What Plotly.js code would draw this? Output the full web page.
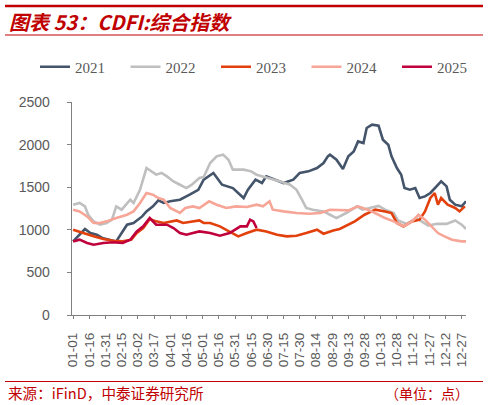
<!DOCTYPE html>
<html>
<head>
<meta charset="utf-8">
<script src="https://cdn.plot.ly/plotly-3.0.1.min.js"></script>
<style>
html,body{margin:0;padding:0;background:#fff;}
#chart{width:488px;height:405px;}
</style>
</head>
<body>
<div id="chart"></div>
<script>
// ---- data (x = day index from 01-01, y = index points) ----
var tickDays = [0,15,30,45,60,75,90,105,120,135,150,165,180,195,210,225,240,255,270,285,300,315,330,345,360];
var tickLabels = ["01-01","01-16","01-31","02-15","03-02","03-17","04-01","04-16","05-01","05-16","05-31","06-15","06-30","07-15","07-30","08-14","08-29","09-13","09-28","10-13","10-28","11-12","11-27","12-12","12-27"];

var seriesNames = ["2021","2022","2023","2024","2025"];

var days2021 = [0,11,16,22,27,33,40,45,50,56,64,68,74,79,84,90,99,108,116,121,130,138,148,158,162,169,175,179,189,195,204,210,218,226,232,236,238,244,250,255,260,264,269,272,277,283,287,292,295,300,304,307,312,317,321,326,331,335,341,346,349,354,360,364];
var vals2021 = [864,1009,962,942,904,884,864,962,1060,1080,1157,1216,1275,1345,1315,1334,1353,1412,1470,1588,1667,1529,1490,1373,1470,1588,1549,1627,1580,1549,1588,1667,1686,1725,1784,1862,1882,1823,1714,1862,1920,2037,2018,2195,2234,2222,2058,1999,1862,1725,1647,1490,1470,1490,1373,1392,1432,1490,1568,1510,1353,1295,1275,1334];

var days2022 = [0,6,11,14,19,25,31,36,40,45,53,56,62,65,68,77,82,87,93,99,105,110,114,117,121,127,133,139,144,148,158,165,170,176,182,192,201,207,212,216,222,232,238,244,253,263,268,283,289,297,301,309,318,329,337,346,354,360,364];
var vals2022 = [1295,1315,1275,1177,1099,1060,1080,1119,1275,1236,1353,1315,1470,1588,1725,1647,1667,1627,1568,1529,1490,1529,1568,1608,1620,1784,1862,1882,1823,1706,1706,1686,1647,1627,1608,1568,1529,1470,1353,1256,1236,1216,1177,1138,1197,1275,1236,1280,1236,1197,1110,1070,1138,1050,1070,1070,1110,1060,1010];

var days2023 = [0,9,19,28,37,46,54,59,65,71,77,84,90,96,102,111,117,121,127,136,145,153,161,170,179,189,198,207,216,226,232,241,247,261,270,280,289,295,300,306,314,321,326,331,335,338,341,347,354,358,363];
var vals2023 = [1001,962,923,892,872,864,884,962,1021,1127,1099,1080,1099,1110,1080,1099,1110,1080,1080,1040,981,923,962,1001,981,942,923,931,962,1001,954,993,1009,1099,1177,1236,1216,1197,1080,1040,1099,1119,1216,1373,1432,1295,1373,1295,1256,1216,1275];

var days2024 = [0,6,13,19,25,31,40,50,56,62,68,74,79,84,90,99,104,111,117,126,133,142,151,161,170,176,182,185,195,207,219,229,238,255,264,273,283,289,297,306,314,320,326,332,338,344,351,360,364];
var vals2024 = [1236,1216,1157,1080,1080,1099,1138,1177,1216,1315,1432,1412,1373,1353,1256,1197,1256,1275,1256,1334,1295,1256,1275,1267,1295,1275,1334,1236,1216,1197,1189,1197,1236,1228,1275,1236,1177,1138,1099,1040,1099,1177,1119,1040,962,923,884,864,864];

var days2025 = [0,6,13,19,28,37,46,53,59,65,71,77,87,93,99,105,111,117,127,136,145,155,161,164,167,170];
var vals2025 = [864,884,845,825,845,853,845,884,981,1040,1138,1060,1060,1021,962,942,962,981,962,931,962,1040,1040,1119,1099,1021];

var seriesColors = ["#44546A","#BFBFBF","#E2400C","#F7A596","#C0003C"];

// ---- traces ----
var allDays = [days2021,days2022,days2023,days2024,days2025];
var allVals = [vals2021,vals2022,vals2023,vals2024,vals2025];
var traces = seriesNames.map(function(n,i){
  return {
    x: allDays[i], y: allVals[i], name: n, type: "scatter", mode: "lines",
    line: {color: seriesColors[i], width: 2.6}, hoverinfo: "skip"
  };
});

// helper: pixel -> paper coords (plot area 72..466 x 102..315)
var L = 72, R = 466, T = 102, B = 315;
function px(x){ return (x - L) / (R - L); }
function py(y){ return (B - y) / (B - T); }

var red = "#C00000";
var layout = {
  width: 488, height: 405,
  margin: {l: L, r: 488 - R, t: T, b: 405 - B, pad: 0},
  paper_bgcolor: "#ffffff", plot_bgcolor: "#ffffff",
  font: {family: "Liberation Sans, Arial, sans-serif", color: "#595959"},
  showlegend: true,
  legend: {
    orientation: "h", x: px(36), xanchor: "left", y: py(67), yanchor: "middle",
    font: {family: "Liberation Serif, Times New Roman, serif", size: 15, color: "#595959"},
    entrywidth: 45.5, entrywidthmode: "pixels", bgcolor: "rgba(0,0,0,0)", borderwidth: 0,
    tracegroupgap: 0
  },
  xaxis: {
    type: "linear", range: [-1, 364], showgrid: false, zeroline: false,
    showline: true, linecolor: "#808080", linewidth: 1.3,
    tickmode: "array", tickvals: tickDays, ticktext: tickLabels,
    ticks: "outside", ticklen: 3, tickcolor: "#808080", tickangle: -90,
    ticklabelstandoff: 8,
    tickfont: {family: "Liberation Sans, Arial, sans-serif", size: 13.5, color: "#595959"},
    fixedrange: true
  },
  yaxis: {
    range: [0, 2500], tickmode: "linear", tick0: 0, dtick: 500,
    showgrid: false, zeroline: false, showline: true, linecolor: "#808080", linewidth: 1.3,
    ticks: "outside", ticklen: 4, tickcolor: "#808080",
    ticklabelstandoff: 14,
    tickfont: {family: "Liberation Sans, Arial, sans-serif", size: 14, color: "#595959"},
    fixedrange: true
  },
  shapes: [
    {type: "line", xref: "paper", yref: "paper", x0: px(5), x1: px(483), y0: py(6), y1: py(6), line: {color: red, width: 2.5}},
    {type: "line", xref: "paper", yref: "paper", x0: px(5), x1: px(483), y0: py(35), y1: py(35), line: {color: red, width: 1}},
    {type: "line", xref: "paper", yref: "paper", x0: px(5), x1: px(483), y0: py(381.5), y1: py(381.5), line: {color: red, width: 1}}
  ],
  annotations: [
    {xref: "paper", yref: "paper", x: px(7), y: py(21), xanchor: "left", yanchor: "middle", showarrow: false,
     text: "<b><i>图表 53：CDFI:综合指数</i></b>",
     font: {family: "Noto Sans CJK SC, sans-serif", size: 20, color: red}},
    {xref: "paper", yref: "paper", x: px(6), y: py(392.5), xanchor: "left", yanchor: "middle", showarrow: false,
     text: "来源：iFinD，中泰证券研究所",
     font: {family: "Noto Sans CJK SC, sans-serif", size: 14.6, color: red}},
    {xref: "paper", yref: "paper", x: px(471), y: py(392.5), xanchor: "right", yanchor: "middle", showarrow: false,
     text: "（单位：点）",
     font: {family: "Noto Sans CJK SC, sans-serif", size: 14, color: red}}
  ]
};

Plotly.newPlot("chart", traces, layout, {displayModeBar: false, staticPlot: true});
</script>
</body>
</html>
